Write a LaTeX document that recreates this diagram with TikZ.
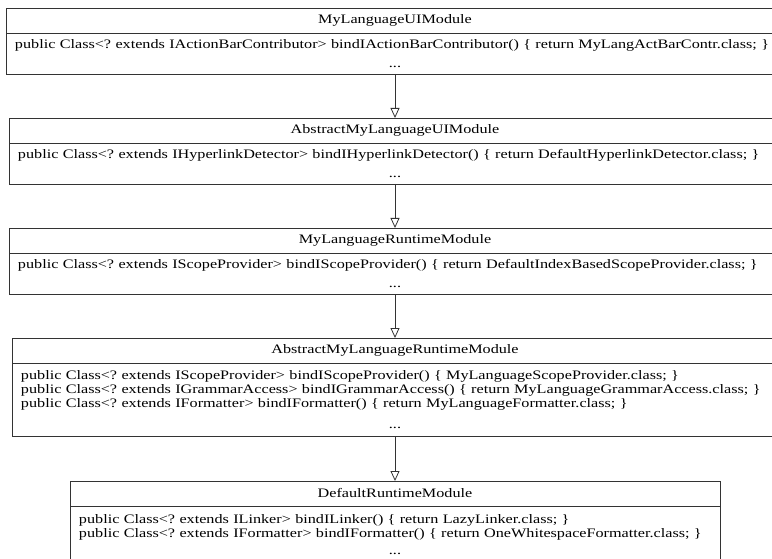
\documentclass[tikz,border=0pt]{standalone}
\usepackage{fontspec}
\setmainfont{Liberation Serif}[FakeStretch=1.25]
\usepackage{tikz}
\usetikzlibrary{positioning,arrows.meta}
\frenchspacing

\begin{document}
\begin{tikzpicture}[x=1bp,y=-1bp,node distance=0pt,>={Triangle[open,length=10bp,width=9bp]},line width=0.8bp]
  \tikzstyle{module}=[draw=black!80,rectangle,outer sep=0pt,inner ysep=0pt,minimum height=25bp,font=\fontsize{13}{14}\selectfont]
  \tikzstyle{binds}=[module,inner xsep=9bp,align=left]
  \tikzstyle{extends}=[->,draw=black!80]

  \useasboundingbox (0,0) rectangle (772,559);

  % module classes, from the UI module down to the default one
  \node[module,minimum width=778bp] (ui) at (395,20.5) {MyLanguageUIModule};
  \node[binds,text width=760bp,minimum height=41bp,below=of ui] (uibinds) {public Class<? extends IActionBarContributor> bindIActionBarContributor() \{ return MyLangActBarContr.class; \}\\[5bp]\makebox[\linewidth]{...}};

  \node[module,minimum width=772bp] (absui) at (395,130.5) {AbstractMyLanguageUIModule};
  \node[binds,text width=754bp,minimum height=41bp,below=of absui] (absuibinds) {public Class<? extends IHyperlinkDetector> bindIHyperlinkDetector() \{ return DefaultHyperlinkDetector.class; \}\\[5bp]\makebox[\linewidth]{...}};

  \node[module,minimum width=772bp] (rt) at (395,240.5) {MyLanguageRuntimeModule};
  \node[binds,text width=754bp,minimum height=41bp,below=of rt] (rtbinds) {public Class<? extends IScopeProvider> bindIScopeProvider() \{ return DefaultIndexBasedScopeProvider.class; \}\\[5bp]\makebox[\linewidth]{...}};

  \node[module,minimum width=766bp] (absrt) at (395,350.5) {AbstractMyLanguageRuntimeModule};
  \node[binds,text width=748bp,minimum height=73bp,below=of absrt] (absrtbinds) {public Class<? extends IScopeProvider> bindIScopeProvider() \{ MyLanguageScopeProvider.class; \}\\
public Class<? extends IGrammarAccess> bindIGrammarAccess() \{ return MyLanguageGrammarAccess.class; \}\\
public Class<? extends IFormatter> bindIFormatter() \{ return MyLanguageFormatter.class; \}\\[7bp]\makebox[\linewidth]{...}};

  \node[module,minimum width=650bp] (def) at (395,493.5) {DefaultRuntimeModule};
  \node[binds,text width=632bp,minimum height=58bp,below=of def] (defbinds) {public Class<? extends ILinker> bindILinker() \{ return LazyLinker.class; \}\\
public Class<? extends IFormatter> bindIFormatter() \{ return OneWhitespaceFormatter.class; \}\\[3bp]\makebox[\linewidth]{...}};

  % inheritance
  \draw[extends] (uibinds) -- (absui);
  \draw[extends] (absuibinds) -- (rt);
  \draw[extends] (rtbinds) -- (absrt);
  \draw[extends] (absrtbinds) -- (def);
\end{tikzpicture}
\end{document}
